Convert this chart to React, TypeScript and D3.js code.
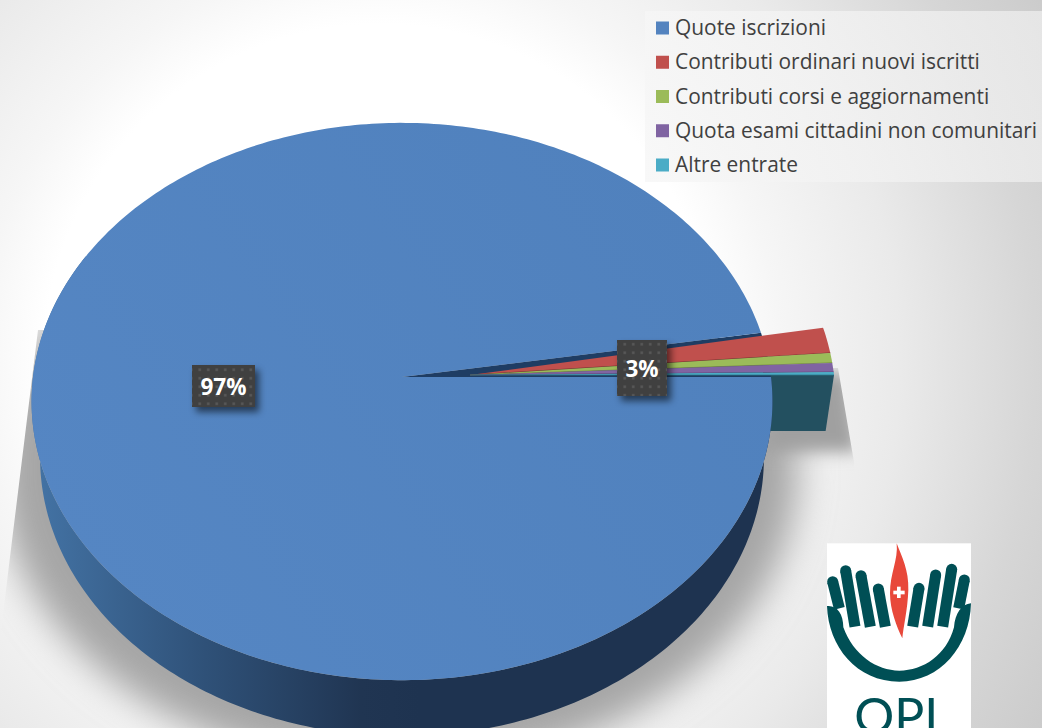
import React from "react";
import * as d3 from "d3";

const categories = ["Quote iscrizioni", "Contributi ordinari nuovi iscritti", "Contributi corsi e aggiornamenti", "Quota esami cittadini non comunitari", "Altre entrate"];
const values = [97.22, 1.5, 0.58, 0.53, 0.17];
const colors = ["#5383bf", "#c0504d", "#9bbb59", "#8064a2", "#4bacc6"];
const labelGroups = [[0], [1, 2, 3, 4]];

const W = 1042, H = 728;
const PK = -0.088, RX = 369, RY = 276.5, DEPTH = 56, SHRINK = 0.977;
const rotate = Math.PI / 2;

type Pt = [number, number];
// d3 pie angle (0 = north, clockwise) to screen, with perspective
function project(a: number, r: number, ax: number, ay: number, h = 0, rx = RX): Pt {
  const u = Math.sin(a) * r, v = -Math.cos(a) * r;
  const d = 1 + PK * v;
  const x = (rx * u) / d, y = (RY * v) / d;
  return h ? [ax + x * SHRINK, ay + y + DEPTH] : [ax + x, ay + y];
}
const arcs = d3.pie<number>().sort(null).startAngle(rotate).endAngle(rotate + 2 * Math.PI)(values);
const line = d3.line<Pt>();
const rim = (a0: number, a1: number, ax: number, ay: number, h = 0, rx = RX): Pt[] => {
  const n = Math.max(2, Math.ceil(Math.abs(a1 - a0) * 60));
  return d3.range(n + 1).map(i => project(a0 + ((a1 - a0) * i) / n, 1, ax, ay, h, rx));
};

const BLUE: Pt = [402, 377];
const SMALL: Pt = [470, 375];
const SMALL_RX = 364;
const blueOverlap = 0.012;

const blue = arcs[0];
const blueEnd = blue.endAngle + blueOverlap;
const blueTop = rim(blue.startAngle, blueEnd, BLUE[0], BLUE[1]);
const blueTopPath = line([BLUE, ...blueTop])! + "Z";
// only the front half of the rim shows a wall
const wallEnd = blue.startAngle + Math.PI * 1.15;
const blueBottom = rim(blue.startAngle, wallEnd, BLUE[0], BLUE[1], 1);
const blueWallTop = rim(blue.startAngle, wallEnd, BLUE[0], BLUE[1]);
const blueWallPath = line([...blueWallTop, ...blueBottom.slice().reverse()])! + "Z";
const notchPath = line([BLUE, ...rim(blueEnd, blue.startAngle + 2 * Math.PI, BLUE[0], BLUE[1])])! + "Z";

const smalls = arcs.slice(1);
const sliceDarks = ["#6e2a28", "#6a7d3c", "#53406b", "#2f7488"];
const lastSmall = smalls[smalls.length - 1];
const tealWall = line([
  SMALL,
  project(lastSmall.endAngle, 1, SMALL[0], SMALL[1], 0, SMALL_RX),
  project(lastSmall.endAngle, 1, SMALL[0], SMALL[1], 1, SMALL_RX),
  project(lastSmall.endAngle, 0, SMALL[0], SMALL[1], 1, SMALL_RX),
])! + "Z";
const slicePath = (a0: number, a1: number) => line([SMALL, ...rim(a0, a1, SMALL[0], SMALL[1], 0, SMALL_RX)])! + "Z";

const SH_SCALE = 1.08;
const shadowBody = line(rim(0, 2 * Math.PI, 0, 0, 0).map(([x, y]) => [BLUE[0] - 4 + x * SH_SCALE, BLUE[1] + 66 + y * SH_SCALE] as Pt))! + "Z";
const shadowSlices = line([[780, 372], [848, 372], [858, 452], [760, 452]] as Pt[])! + "Z";
const shadowClip = line([[38, 330], [700, 330], [775, 368], [838, 368], [854, 462], [854, 728], [0, 728], [0, 640], [9, 565]] as Pt[])! + "Z";

const fmt = d3.format(".0%");
const total = d3.sum(values);
const labels = labelGroups.map(g => fmt(d3.sum(g.map(i => values[i])) / total));
const labelBoxes = [
  { x: 192, y: 365, w: 63, h: 42 },
  { x: 617, y: 340, w: 50, h: 56 },
];

const LEG_X = 656, LEG_TX = 675, LEG_Y0 = 28, LEG_DY = 34.25;

const fingers: [number, number, number, number][] = [
  [68, 155, 88, 235], [107, 122, 135, 290], [153, 137, 181, 290], [205, 177, 226, 290],
  [463, 150, 446, 235], [425, 118, 398, 290], [377, 135, 353, 290], [327, 175, 308, 290],
];

export default function App() {
  return (
    <svg width={W} height={H} viewBox={`0 0 ${W} ${H}`} style={{ position: "absolute", left: 0, top: 0, display: "block" }}>
      <defs>
        <radialGradient id="bg" gradientUnits="userSpaceOnUse" cx={380} cy={360} r={800}>
          <stop offset="0.42" stopColor="#ffffff" />
          <stop offset="0.5" stopColor="#f6f6f6" />
          <stop offset="0.65" stopColor="#eaeaea" />
          <stop offset="0.82" stopColor="#d6d6d6" />
          <stop offset="0.95" stopColor="#cbcbcb" />
        </radialGradient>
        <linearGradient id="wall" gradientUnits="userSpaceOnUse" x1={30} y1={0} x2={420} y2={0}>
          <stop offset="0" stopColor="#4474a6" />
          <stop offset="0.45" stopColor="#2f5178" />
          <stop offset="0.85" stopColor="#203552" />
          <stop offset="1" stopColor="#1e3350" />
        </linearGradient>
        <linearGradient id="top" gradientUnits="userSpaceOnUse" x1={100} y1={600} x2={700} y2={200}>
          <stop offset="0" stopColor="#5586c3" />
          <stop offset="1" stopColor="#5081bd" />
        </linearGradient>
        <linearGradient id="panel" x1="0" x2="1" y1="0" y2="0">
          <stop offset="0" stopColor="#f6f6f6" stopOpacity="0.8" />
          <stop offset="1" stopColor="#f0f0f0" stopOpacity="0.7" />
        </linearGradient>
        <filter id="blur" x="-20%" y="-20%" width="140%" height="140%"><feGaussianBlur stdDeviation="18" /></filter>
        <filter id="blurS" x="-30%" y="-30%" width="160%" height="160%"><feGaussianBlur stdDeviation="8" /></filter>
        <filter id="boxShadow" x="-40%" y="-40%" width="180%" height="180%">
          <feGaussianBlur stdDeviation="3.5" />
        </filter>
        <pattern id="dots" width="8.5" height="8.5" patternUnits="userSpaceOnUse">
          <rect width="8.5" height="8.5" fill="#404040" />
          <rect x="3" y="3" width="2.5" height="2.5" fill="#595959" />
        </pattern>
        <clipPath id="logoClip"><rect x={51} y={40} width={432} height={554} /></clipPath>
        <clipPath id="shadowClip"><path d={shadowClip} /></clipPath>
      </defs>

      <rect width={W} height={H} fill="url(#bg)" />
      <rect x={645} y={11} width={397} height={171} fill="url(#panel)" />

      <g clipPath="url(#shadowClip)">
        <path d={shadowBody} fill="#a6a6a6" filter="url(#blur)" />
        <path d={shadowSlices} fill="#a0a0a0" filter="url(#blurS)" />
      </g>

      <path d={tealWall} fill="#235060" />
      <path d={notchPath} fill="#1f3d63" />
      {smalls.map((s, i) => (
        <g key={i}>
          <path d={slicePath(s.startAngle, s.endAngle)} fill={colors[i + 1]} />
          <path d={line([SMALL, project(s.endAngle, 1, SMALL[0], SMALL[1], 0, SMALL_RX)])!} fill="none" stroke={sliceDarks[i]} strokeWidth={0.8} />
        </g>
      ))}

      <path d={blueWallPath} fill="url(#wall)" />
      <path d={blueTopPath} fill="url(#top)" />

      {labelBoxes.map((b, i) => (
        <g key={i}>
          <rect x={b.x + 4} y={b.y + 5} width={b.w} height={b.h} fill="#000" opacity={0.55} filter="url(#boxShadow)" />
          <rect x={b.x} y={b.y} width={b.w} height={b.h} fill="url(#dots)" />
          <text x={b.x + b.w / 2} y={b.y + b.h / 2 + 8.5} textAnchor="middle" fontFamily="'Open Sans'" fontWeight={700} fontSize={22.5} fill="#fff">{labels[i]}</text>
        </g>
      ))}

      {categories.map((c, i) => (
        <g key={c}>
          <rect x={LEG_X} y={LEG_Y0 + i * LEG_DY - 6.5} width={13} height={13} fill={colors[i]} />
          <text x={LEG_TX} y={LEG_Y0 + i * LEG_DY + 7} fontFamily="'Open Sans'" fontSize={20.9} fill="#404040">{c}</text>
        </g>
      ))}

      <g transform="translate(810,530) scale(0.33333)">
        <rect x={51} y={40} width={432} height={554} fill="#fff" />
        <g clipPath="url(#logoClip)">
          {fingers.map(([x1, y1, x2, y2], i) => (
            <g key={i}>
              <line x1={x1} y1={y1} x2={x2} y2={y2} stroke="#004f55" strokeWidth={33} />
              <circle cx={x1} cy={y1} r={16.5} fill="#004f55" />
            </g>
          ))}
          <path d="M260 40 C275 80 297 120 295 180 C293 240 280 290 277 325 C260 290 240 240 240 190 C240 130 265 90 260 40Z" fill="#e8483a" />
          <rect x={250} y={182} width={34} height={11} fill="#fff" />
          <rect x={261} y={170} width={11} height={34} fill="#fff" />
          <path d="M51 228 C80 225 100 250 100 292 C130 375 200 422 268 422 C340 422 410 375 432 292 C435 250 455 222 483 220 C480 350 390 455 268 455 C140 455 55 350 51 228 Z" fill="#004f55" />
          <text x={259} y={612} textAnchor="middle" fontFamily="Lato" fontSize={150} fill="#004f55">OPI</text>
        </g>
      </g>
    </svg>
  );
}
